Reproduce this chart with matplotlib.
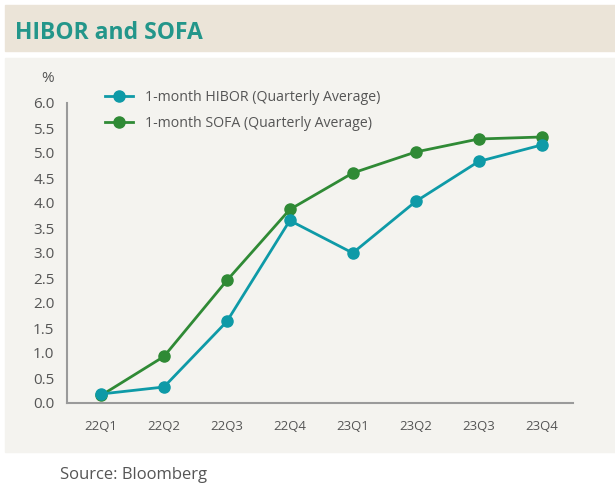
import matplotlib.pyplot as plt
from matplotlib.patches import Rectangle

quarters = ['22Q1', '22Q2', '22Q3', '22Q4', '23Q1', '23Q2', '23Q3', '23Q4']
hibor = [0.18, 0.32, 1.63, 3.65, 3.00, 4.03, 4.83, 5.16]
sofa = [0.15, 0.93, 2.45, 3.87, 4.60, 5.02, 5.28, 5.32]

teal = '#0e9aa7'
green = '#2f8a35'
grey_txt = '#555555'

plt.rcParams['font.family'] = ['Open Sans', 'DejaVu Sans']

W, H = 615, 486
fig = plt.figure(figsize=(W / 100, H / 100), dpi=100)
fig.patch.set_facecolor('white')

# title band and chart panel (behind the axes)
fig.patches.append(Rectangle((5 / W, 1 - 51 / H), 610 / W, 46 / H,
                             transform=fig.transFigure, color='#ebe4d8', zorder=-10))
fig.patches.append(Rectangle((5 / W, 1 - 452 / H), 610 / W, 394 / H,
                             transform=fig.transFigure, color='#f4f3ef', zorder=-10))
fig.text(15 / W, 1 - 33 / H, 'HIBOR and SOFA', color='#23968a', fontsize=16.5,
         fontweight='bold', va='center', ha='left')

ax = fig.add_axes([67 / W, 1 - 403 / H, 506 / W, 300 / H])
ax.set_facecolor('none')
x = list(range(len(quarters)))
ax.plot(x, hibor, color=teal, lw=2, marker='o', ms=8, label='1-month HIBOR (Quarterly Average)', zorder=3)
ax.plot(x, sofa, color=green, lw=2, marker='o', ms=8, label='1-month SOFA (Quarterly Average)', zorder=2)

ax.set_xlim(-0.54, 7.5)
ax.set_ylim(0, 6)
ax.set_yticks([i * 0.5 for i in range(13)])
ax.set_yticklabels(['%.1f' % (i * 0.5) for i in range(13)])
ax.set_xticks(x)
ax.set_xticklabels(quarters)
ax.tick_params(axis='y', length=0, pad=9, labelsize=11, labelcolor=grey_txt)
ax.tick_params(axis='x', length=0, pad=12, labelsize=9.5, labelcolor=grey_txt)
for s in ['top', 'right']:
    ax.spines[s].set_visible(False)
for s in ['left', 'bottom']:
    ax.spines[s].set_color('#9a9a9a')
    ax.spines[s].set_linewidth(1.5)

fig.text(48 / W, 1 - 78 / H, '%', fontsize=11, color=grey_txt, ha='center', va='center')

leg = ax.legend(loc='upper left', bbox_to_anchor=(0.05, 1.085), frameon=False,
                fontsize=10.2, handlelength=2, labelspacing=0.75, labelcolor=grey_txt)

fig.text(60 / W, 1 - 475 / H, 'Source: Bloomberg', fontsize=12, color=grey_txt,
         ha='left', va='center')

fig.savefig('out.png', dpi=100)
